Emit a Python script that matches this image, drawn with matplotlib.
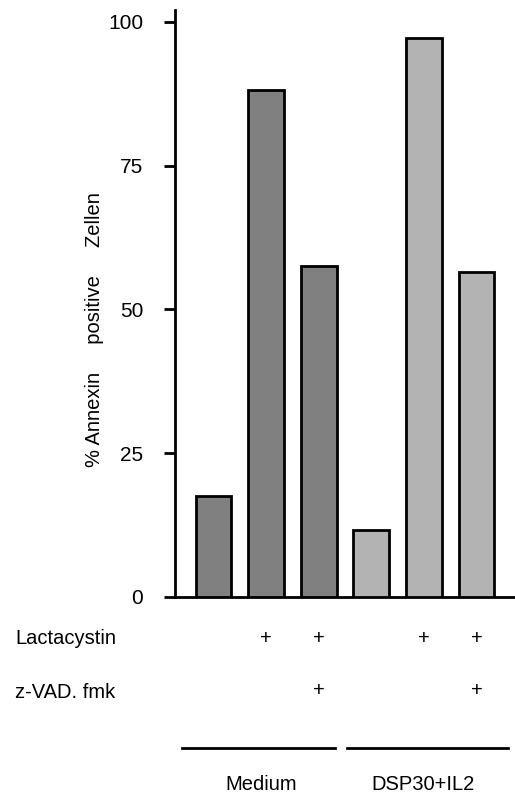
import matplotlib
matplotlib.use('Agg')
import matplotlib.pyplot as plt
import matplotlib.transforms as mtransforms
import numpy as np

plt.rcParams['font.family'] = ['Liberation Sans', 'DejaVu Sans']

# Werte (% Annexin positive Zellen)
werte = [17.5, 88.1, 57.6, 11.6, 97.2, 56.5]
farben = ['#808080', '#808080', '#808080', '#b3b3b3', '#b3b3b3', '#b3b3b3']
lactacystin = ['', '+', '+', '', '+', '+']
zvad = ['', '', '+', '', '', '+']
gruppen = ['Medium', 'DSP30+IL2']
yticks = [0, 25, 50, 75, 100]

x = np.arange(len(werte))

fig = plt.figure(figsize=(5.15, 7.96), dpi=100)
ax = fig.add_axes([175 / 515, 1 - 597 / 796, 340 / 515, (597 - 10) / 796])

ax.bar(x, werte, 0.68, color=farben, edgecolor='black', linewidth=2, zorder=3)

ax.set_xlim(-0.732, 5.732)
ax.set_ylim(0, 100 * (597 - 10) / (597 - 21.7))
ax.set_yticks(yticks)
ax.tick_params(axis='y', direction='out', length=8, width=2, pad=15, labelsize=15)
ax.set_xticks([])
for s in ['top', 'right']:
    ax.spines[s].set_visible(False)
ax.spines['left'].set_linewidth(2)
ax.spines['bottom'].set_linewidth(2)

fig.text(95 / 515, 1 - 330 / 796, '% Annexin     positive     Zellen',
         rotation=90, ha='center', va='center', fontsize=14.5)

trans = mtransforms.blended_transform_factory(ax.transData, fig.transFigure)

# Zeilen unter der Achse
fs = 14.5
fig.text(15 / 515, 1 - 639 / 796, 'Lactacystin', ha='left', va='center', fontsize=fs)
fig.text(15 / 515, 1 - 692 / 796, 'z-VAD. fmk', ha='left', va='center', fontsize=fs)
for i in range(len(werte)):
    ax.text(x[i], 1 - 638 / 796, lactacystin[i], transform=trans, ha='center', va='center', fontsize=fs)
    ax.text(x[i], 1 - 691 / 796, zvad[i], transform=trans, ha='center', va='center', fontsize=fs)

# Gruppenlinien
ax.plot([-0.6, 2.31], [1 - 748 / 796] * 2, color='black', lw=2, transform=trans, clip_on=False)
ax.plot([2.54, 5.6], [1 - 748 / 796] * 2, color='black', lw=2, transform=trans, clip_on=False)
ax.text(0.9, 1 - 784 / 796, gruppen[0], transform=trans, ha='center', va='center', fontsize=fs)
ax.text(3.98, 1 - 784 / 796, gruppen[1], transform=trans, ha='center', va='center', fontsize=fs)

fig.savefig('out.png', dpi=100)
